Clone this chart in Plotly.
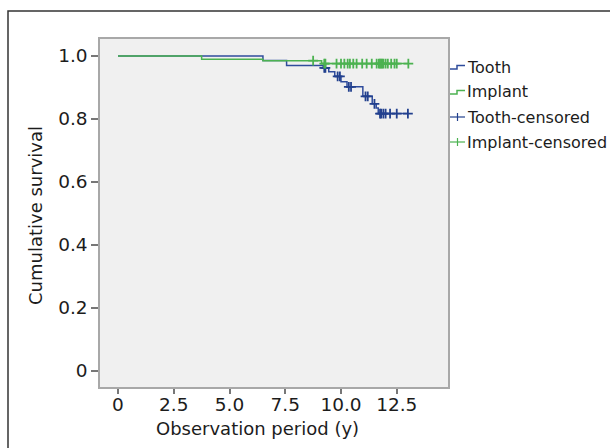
import numpy as np
import plotly.graph_objects as go

# ---- data ----
tooth_times = [0, 6.5, 7.56, 9.2, 9.45, 9.72, 10.0, 10.27, 10.98, 11.4, 11.58, 11.67, 13.0]
tooth_surv = [1.0, 0.986, 0.970, 0.962, 0.950, 0.935, 0.918, 0.902, 0.872, 0.848, 0.835, 0.817, 0.817]
tooth_censored = [9.25, 9.3, 9.85, 9.95, 10.35, 10.45, 11.1, 11.2, 11.5, 11.75, 11.8,
                  11.9, 12.0, 12.2, 12.5, 13.0]

implant_times = [0, 3.75, 6.5, 9.13, 13.02]
implant_surv = [1.0, 0.990, 0.985, 0.976, 0.976]
implant_censored = [8.75, 9.25, 9.3, 9.8, 10.0, 10.15, 10.3, 10.4, 10.55, 10.7, 10.95, 11.15,
                    11.38, 11.6, 11.7, 11.75, 11.8, 11.85, 11.9, 12.0, 12.1, 12.25, 12.4,
                    12.5, 13.02]

x_ticks = [0, 2.5, 5.0, 7.5, 10.0, 12.5]
x_ticktext = ["0", "2.5", "5.0", "7.5", "10.0", "12.5"]
y_ticks = [0, 0.2, 0.4, 0.6, 0.8, 1.0]
y_ticktext = ["0", "0.2", "0.4", "0.6", "0.8", "1.0"]

legend_labels = ["Tooth", "Implant", "Tooth-censored", "Implant-censored"]

BLUE = "#2f4c9c"
BLUE_DARK = "#22408e"
GREEN = "#4cb251"
FONT = "DejaVu Sans, Verdana, sans-serif"
TXT = "#1c1c1c"


def step_value(times, surv, t):
    idx = np.searchsorted(np.array(times), t, side="right") - 1
    return [surv[i] for i in idx]


fig = go.Figure()
fig.add_trace(go.Scatter(x=tooth_times, y=tooth_surv, mode="lines", line_shape="hv",
                         line=dict(color=BLUE, width=1.5), name="Tooth"))
fig.add_trace(go.Scatter(x=implant_times, y=implant_surv, mode="lines", line_shape="hv",
                         line=dict(color=GREEN, width=1.5), name="Implant"))
fig.add_trace(go.Scatter(x=tooth_censored, y=step_value(tooth_times, tooth_surv, tooth_censored),
                         mode="markers", marker=dict(symbol="cross-thin", size=7,
                                                     line=dict(color=BLUE_DARK, width=1.8)),
                         name="Tooth-censored"))
fig.add_trace(go.Scatter(x=implant_censored, y=step_value(implant_times, implant_surv, implant_censored),
                         mode="markers", marker=dict(symbol="cross-thin", size=7,
                                                     line=dict(color=GREEN, width=1.8)),
                         name="Implant-censored"))

# plot area geometry in pixels
L, T, R, B = 100, 39, 448, 387
W, H = R - L, B - T


def px(x):
    return (x - L) / W


def py(y):
    return (B - y) / H


shapes = []
# outer frame (left and top edges visible; right/bottom beyond the picture)
shapes.append(dict(type="rect", xref="paper", yref="paper", x0=px(8), x1=px(700), y0=py(11), y1=py(500),
                   line=dict(color="#333333", width=1.5), fillcolor="rgba(0,0,0,0)", layer="below"))

# manual legend
leg_y = [67, 92, 117, 142]
leg_colors = [BLUE, GREEN, BLUE_DARK, GREEN]
annotations = []
for i, (lab, yc, col) in enumerate(zip(legend_labels, leg_y, leg_colors)):
    if i < 2:
        path = "M {},{} L {},{} L {},{} L {},{}".format(
            px(450), py(yc + 2), px(457), py(yc + 2), px(457), py(yc - 1.5), px(465), py(yc - 1.5))
        shapes.append(dict(type="path", xref="paper", yref="paper", path=path,
                           line=dict(color=col, width=1.5)))
    else:
        shapes.append(dict(type="line", xref="paper", yref="paper", x0=px(450), x1=px(465),
                           y0=py(yc), y1=py(yc), line=dict(color=col, width=1.2)))
        shapes.append(dict(type="line", xref="paper", yref="paper", x0=px(457.5), x1=px(457.5),
                           y0=py(yc - 4), y1=py(yc + 4), line=dict(color=col, width=1.2)))
    annotations.append(dict(text=lab, xref="paper", yref="paper", x=px(465), y=py(yc),
                            xanchor="left", yanchor="middle", showarrow=False,
                            font=dict(size=16, color=TXT, family=FONT)))

annotations.append(dict(text="Observation period (y)", xref="x", yref="paper", x=6.25, y=py(429),
                        xanchor="center", yanchor="middle", showarrow=False,
                        font=dict(size=18, color=TXT, family=FONT)))
annotations.append(dict(text="Cumulative survival", xref="paper", yref="paper", x=px(35), y=py(216),
                        xanchor="center", yanchor="middle", textangle=-90, showarrow=False,
                        font=dict(size=18, color=TXT, family=FONT)))

fig.update_layout(
    width=610, height=448,
    margin=dict(l=L, r=610 - R, t=T, b=448 - B, pad=0),
    paper_bgcolor="white",
    plot_bgcolor="#f0f0f0",
    showlegend=False,
    shapes=shapes,
    annotations=annotations,
    font=dict(family=FONT, size=18, color=TXT),
)
x_per_px = 1 / 22.3
fig.update_xaxes(range=[(L - 118) * x_per_px, (R - 118) * x_per_px],
                 tickvals=x_ticks, ticktext=x_ticktext,
                 ticks="outside", ticklen=5, tickcolor="#777777", tickwidth=1.5,
                 ticklabelstandoff=-5,
                 showgrid=False, zeroline=False, showline=True, mirror=True,
                 linecolor="#a8a8a8", linewidth=1.5, tickfont=dict(size=18.5, color=TXT))
y_per_px = 1 / 314.7
fig.update_yaxes(range=[-(B - 370.7) * y_per_px, (370.7 - T) * y_per_px],
                 tickvals=y_ticks, ticktext=y_ticktext,
                 ticks="outside", ticklen=7, tickcolor="#777777", tickwidth=1.5,
                 showgrid=False, zeroline=False, showline=True, mirror=True,
                 linecolor="#a8a8a8", linewidth=1.5, tickfont=dict(size=18.5, color=TXT))

fig.write_html("out.html")
